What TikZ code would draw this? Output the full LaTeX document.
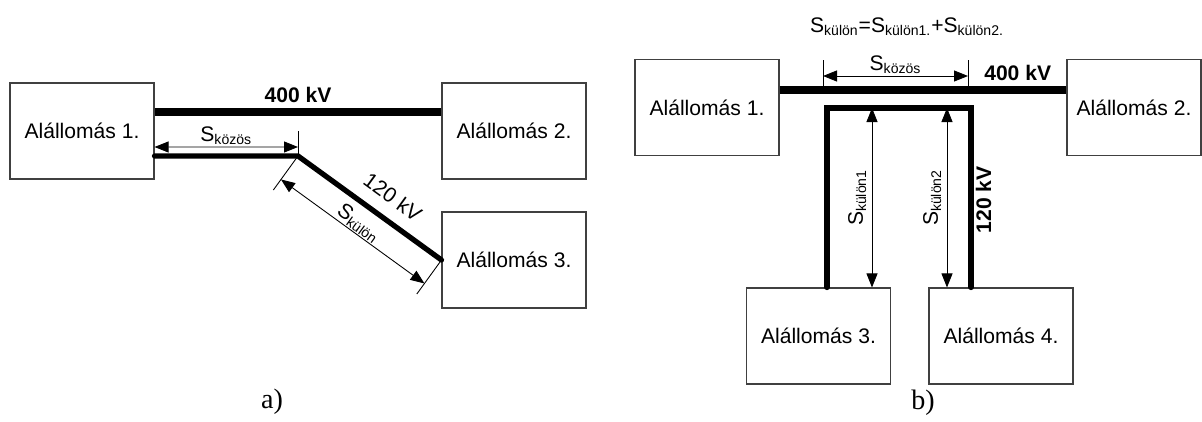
\documentclass[tikz,border=0pt]{standalone}
\usepackage{fontspec}
\setmainfont{Liberation Sans}
\newfontfamily\betucim{Liberation Serif}
\usetikzlibrary{arrows.meta,calc}
\tikzset{
  allomas/.style={draw=black!75, line width=0.6pt, minimum width=2.88cm, minimum height=1.92cm, inner sep=0pt},
  v400/.style={line width=4pt},
  v120/.style={line width=3pt, line cap=round},
  vekony/.style={line width=0.5pt},
  meret/.style={vekony, {Triangle[length=2.8mm,width=2.2mm]}-{Triangle[length=2.8mm,width=2.2mm]}},
  cimke/.style={font=\fontsize{12}{14}\selectfont\bfseries},
}
\newcommand{\Sidx}[1]{S\textsubscript{#1}}
\begin{document}
\begin{tikzpicture}[font=\fontsize{12}{14}\selectfont]
  \useasboundingbox (0,0) rectangle (24.04,8.42);
  % a) resz: allomasok
  \node[allomas] (a1) at (1.64,5.80) {Alállomás 1.};
  \node[allomas] (a2) at (10.28,5.80) {Alállomás 2.};
  \node[allomas] (a3) at (10.28,3.22) {Alállomás 3.};
  % vezetekek
  \draw[v400] ([yshift=3.8mm]a1.east) -- node[above, cimke] {400 kV} ([yshift=3.8mm]a2.west);
  \coordinate (k) at (5.96,5.30);
  \draw[v120] ([yshift=-5mm]a1.east) -- (k) -- node[sloped, above=3.5pt, pos=0.57] {120 kV} (a3.west);
  % meretek
  \draw[vekony] (k) -- ++(0,0.5);
  \draw[meret] ([yshift=-3.2mm]a1.east) -- node[above, inner sep=1pt] {\Sidx{közös}} ([yshift=1.8mm]k);
  \coordinate (d1) at ($(k)!5.8mm!-90:(a3.west)$);
  \coordinate (d2) at ($(a3.west)!5.8mm!90:(k)$);
  \draw[vekony] (k) -- ($(k)!8.4mm!-90:(a3.west)$);
  \draw[vekony] (a3.west) -- ($(a3.west)!8.4mm!90:(k)$);
  \draw[meret] (d1) -- node[sloped, above, inner sep=0.5pt] {\Sidx{külön}} (d2);
  \node[font=\betucim\fontsize{16}{19}\selectfont] (acim) at (5.44,0.38) {a)};

  % b) resz: allomasok
  \node[allomas] (b1) at (14.14,6.27) {Alállomás 1.};
  \node[allomas, minimum width=2.68cm] (b2) at (22.68,6.27) {Alállomás 2.};
  \node[allomas] (b3) at (16.37,1.70) {Alállomás 3.};
  \node[allomas] (b4) at (20.02,1.70) {Alállomás 4.};
  \node (keplet) at (18.14,7.88) {\Sidx{külön}=\Sidx{külön1.}+\Sidx{külön2.}};
  % vezetekek
  \draw[v400] ([yshift=3.5mm]b1.east) -- node[above, pos=0.83, cimke] {400 kV} ([yshift=3.5mm]b2.west);
  \coordinate (t1) at (16.54,6.26);
  \coordinate (t2) at (19.42,6.26);
  \draw[v120] (t1 |- b3.north) -- (t1) -- (t2) -- (t2 |- b4.north);
  \node[cimke, rotate=90] (f120) at (19.67,4.42) {120 kV};
  % meretek
  \coordinate (m1) at (16.46,6.90);
  \coordinate (m2) at (19.36,6.90);
  \draw[vekony] ([yshift=3.2mm]m1) -- ([yshift=-2.6mm]m1);
  \draw[vekony] ([yshift=3.2mm]m2) -- ([yshift=-2.6mm]m2);
  \draw[meret] (m1) -- node[above, inner sep=1pt] {\Sidx{közös}} (m2);
  \coordinate (n1) at (17.44,6.26);
  \coordinate (n2) at (18.94,6.26);
  \draw[meret] (n1) -- node[above, rotate=90, inner sep=3pt] {\Sidx{külön1}} (n1 |- b3.north);
  \draw[meret] (n2) -- node[above, rotate=90, inner sep=3pt] {\Sidx{külön2}} (n2 |- b4.north);
  \node[font=\betucim\fontsize{16}{19}\selectfont] (bcim) at (18.46,0.36) {b)};
\end{tikzpicture}
\end{document}
